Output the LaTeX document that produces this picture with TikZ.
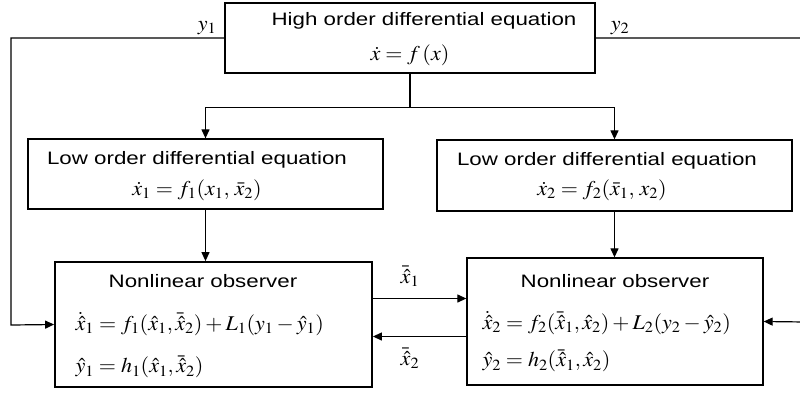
\documentclass[tikz,border=0pt]{standalone}
\usepackage{mathptmx}
\usepackage[no-math]{fontspec}
\setmainfont{Liberation Sans}
\usepackage{graphicx}
\usetikzlibrary{arrows.meta,positioning,calc}

% stretched text, as in the original figure
\newcommand{\wide}[1]{\scalebox{1.24}[1]{#1}}
\newcommand{\mwide}[1]{\scalebox{1.05}[1]{#1}}

\begin{document}
\begin{tikzpicture}[x=1pt, y=-1pt, >={Triangle[length=9pt,width=8pt]}, line width=1.2pt,
  box/.style={rectangle, draw, line width=1.3pt, inner sep=0pt},
  obsbox/.style={box, line width=1.8pt},
  txt/.style={inner sep=0pt, font=\fontsize{18}{21}\selectfont},
  eqn/.style={inner sep=0pt, font=\fontsize{21}{24}\selectfont}]
  \useasboundingbox (0,0) rectangle (800,392);

  % blocks
  \node (high) [box, minimum width=370pt, minimum height=70pt] at (410,38) {};
  \node (low1) [box, minimum width=355pt, minimum height=70pt] at (205.5,174) {};
  \node (low2) [box, minimum width=355pt, minimum height=71pt] at (614.5,175.5) {};
  \node (obs1) [obsbox, minimum width=317pt, minimum height=125pt] at (213.5,324.5) {};
  \node (obs2) [box, minimum width=296pt, minimum height=127pt] at (615,321.5) {};

  % texts in the blocks
  \node (highT) [txt] at (424,21) {\wide{High order differential equation}};
  \node (highE) [eqn] at (410,55) {\mwide{$\dot{x} = f\,(x)$}};
  \node (low1T) [txt] at (197,160) {\wide{Low order differential equation}};
  \node (low1E) [eqn] at (197,190) {\mwide{$\dot{x}_1 = f_1(x_1,\, \bar{x}_2)$}};
  \node (low2T) [txt] at (607,161) {\wide{Low order differential equation}};
  \node (low2E) [eqn] at (602,190) {\mwide{$\dot{x}_2 = f_2(\bar{x}_1,\, x_2)$}};
  \node (obs1T) [txt] at (203,281) {\wide{Nonlinear observer}};
  \node (obs1E) [eqn, anchor=west] at (75,324) {\mwide{$\dot{\hat{x}}_1 = f_1(\hat{x}_1, \bar{\hat{x}}_2) + L_1(y_1 - \hat{y}_1)$}};
  \node (obs1H) [eqn, anchor=west] at (75,367) {\mwide{$\hat{y}_1 = h_1(\hat{x}_1, \bar{\hat{x}}_2)$}};
  \node (obs2T) [txt] at (615,281) {\wide{Nonlinear observer}};
  \node (obs2E) [eqn, anchor=west] at (482,323) {\mwide{$\dot{\hat{x}}_2 = f_2(\bar{\hat{x}}_1, \hat{x}_2) + L_2(y_2 - \hat{y}_2)$}};
  \node (obs2H) [eqn, anchor=west] at (482,361) {\mwide{$\hat{y}_2 = h_2(\bar{\hat{x}}_1, \hat{x}_2)$}};

  % connectors
  \coordinate (split) at ($(high.south)+(0,34)$);
  \draw (high.south) -- (split);
  \draw[->] (split) -| (low1.north);
  \draw[->] (split) -| (low2.north);
  \draw[->] (low1.south) -- (low1.south |- obs1.north);
  \draw[->] (low2.south) -- (low2.south |- obs2.north);

  \coordinate (fbL) at (11,325);
  \draw[->] (high.west) -| (fbL) -- (obs1.west);
  \node (y1) [eqn] at (207,28) {\mwide{$y_1$}};
  \coordinate (fbR) at (806,322);
  \draw[->] (high.east) -- (fbR |- high.east) -- (fbR) -- (obs2.east);
  \node (y2) [eqn] at (620,28) {\mwide{$y_2$}};

  \coordinate (a1) at ([yshift=26pt]obs1.east);
  \draw[->] (a1) -- (a1 -| obs2.west);
  \node (xb1) [eqn] at (410,276) {\mwide{$\bar{\hat{x}}_1$}};
  \coordinate (a2) at ([yshift=-15pt]obs2.west);
  \draw[->] (a2) -- (a2 -| obs1.east);
  \node (xb2) [eqn] at (410,358) {\mwide{$\bar{\hat{x}}_2$}};
\end{tikzpicture}
\end{document}
